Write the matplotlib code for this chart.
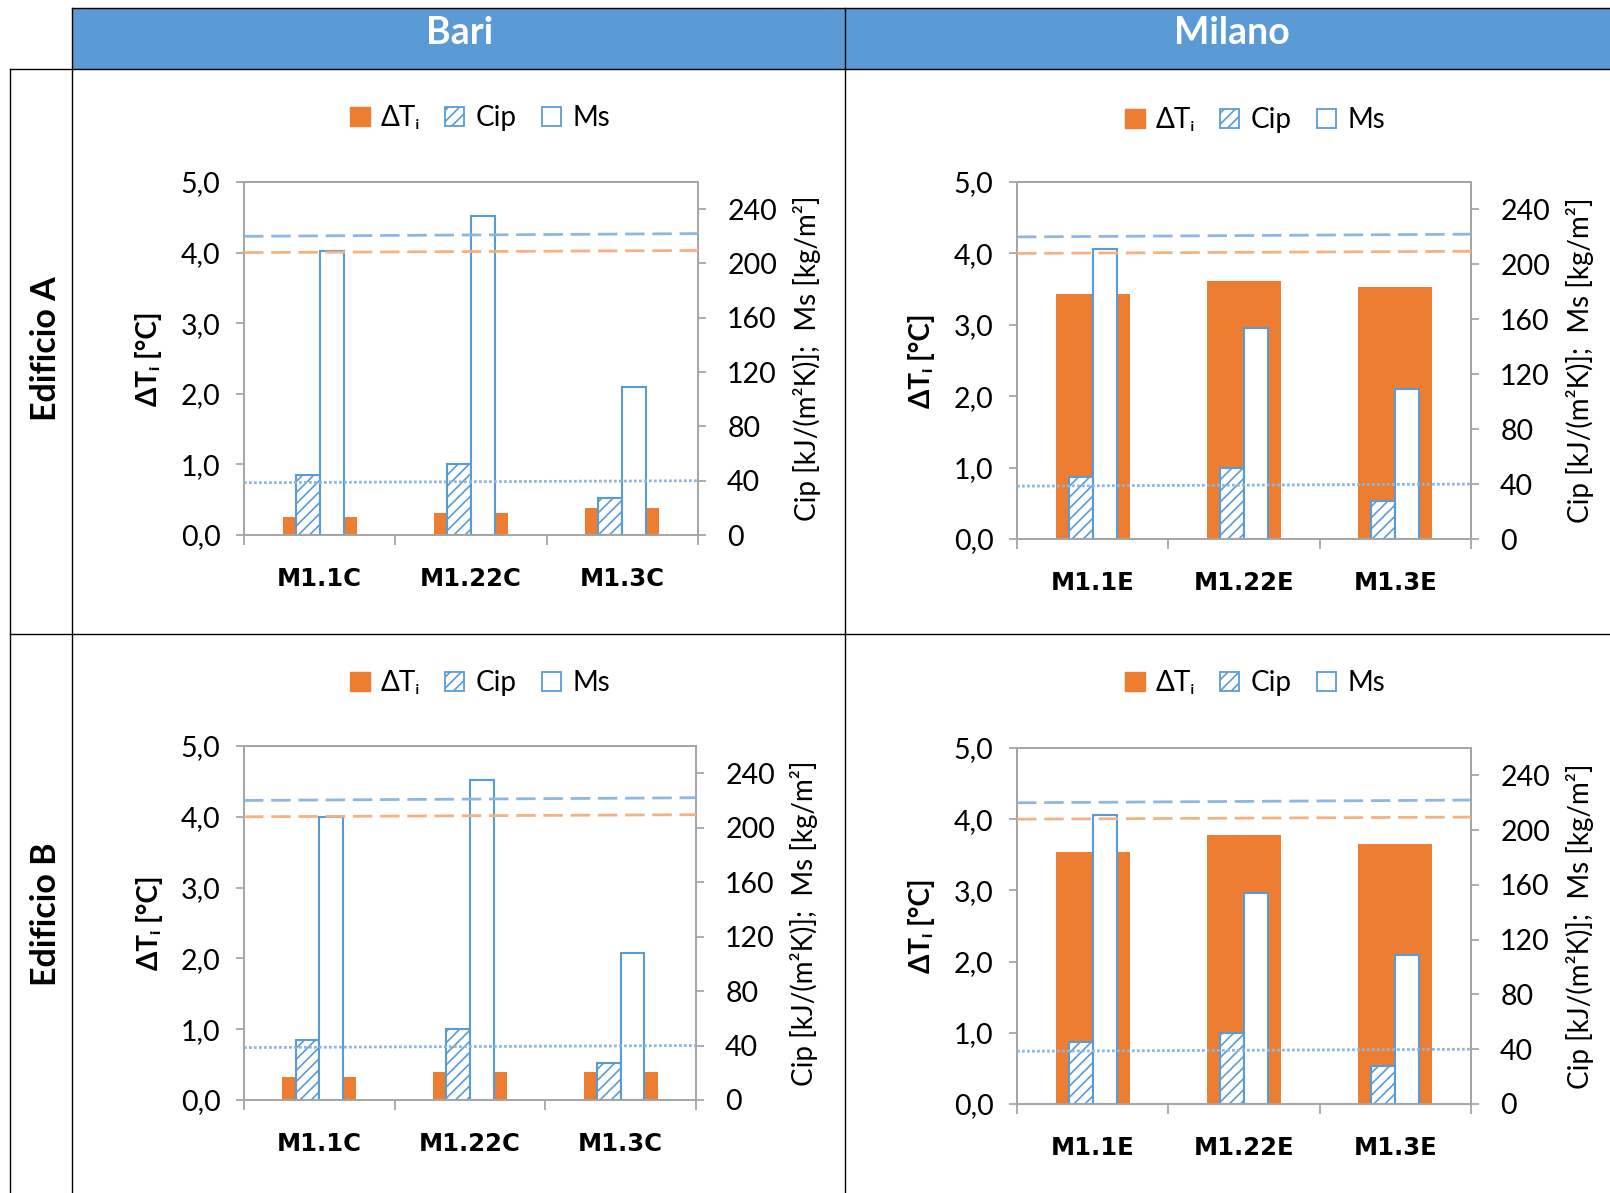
import matplotlib
matplotlib.use('Agg')
import matplotlib.pyplot as plt
from matplotlib.patches import Rectangle, Patch
from matplotlib.lines import Line2D
import numpy as np

plt.rcParams['font.family'] = ['Lato', 'DejaVu Sans']
plt.rcParams['hatch.linewidth'] = 1.2

# ---------------- data ----------------
cities = ['Bari', 'Milano']
buildings = ['Edificio A', 'Edificio B']
categories_bari = ['M1.1C', 'M1.22C', 'M1.3C']
categories_milano = ['M1.1E', 'M1.22E', 'M1.3E']

dT_A_bari = [0.25, 0.31, 0.38]
cip_A_bari = [44, 52, 27]
ms_A_bari = [209, 235, 109]

dT_A_milano = [3.43, 3.61, 3.53]
cip_A_milano = [45, 52, 28]
ms_A_milano = [211, 154, 109]

dT_B_bari = [0.32, 0.39, 0.39]
cip_B_bari = [44, 52, 27]
ms_B_bari = [208, 235, 108]

dT_B_milano = [3.54, 3.78, 3.65]
cip_B_milano = [45, 52, 28]
ms_B_milano = [211, 154, 109]

# reference (limit) lines, start/end values
dT_limit = [4.0, 4.03]
ms_limit = [220, 222]
cip_limit = [38.5, 40]

left_ticks = [0, 1, 2, 3, 4, 5]
left_ticklabels = ['0,0', '1,0', '2,0', '3,0', '4,0', '5,0']
right_ticks = [0, 40, 80, 120, 160, 200, 240]

# ---------------- style ----------------
W, H = 1610, 1193
ORANGE = '#ED7D31'
BLUE = '#5B9BD5'
LBLUE = '#8DB7E2'
LORANGE = '#F4B183'
GRAY = '#A6A6A6'

fig = plt.figure(figsize=(W / 100, H / 100), dpi=100)
fig.patch.set_facecolor('white')


def fig_line(x0, y0, x1, y1, **kw):
    fig.add_artist(Line2D([x0 / W, x1 / W], [1 - y0 / H, 1 - y1 / H],
                          transform=fig.transFigure, color='black', lw=1.0, **kw))


# header bar
fig.add_artist(Rectangle((72 / W, 1 - 69 / H), (W - 72) / W, 61 / H,
                         transform=fig.transFigure, facecolor=BLUE, edgecolor='none'))
fig.text(460 / W, 1 - 33 / H, cities[0], color='white', fontsize=27,
         fontweight='bold', ha='center', va='center')
fig.text(1232 / W, 1 - 33 / H, cities[1], color='white', fontsize=27,
         fontweight='bold', ha='center', va='center')

# grid lines
fig_line(72, 8, W, 8)
fig_line(10, 69, W, 69)
fig_line(10, 634, W, 634)
fig_line(10, 69, 10, H)
fig_line(72, 8, 72, H)
fig_line(845, 8, 845, H)

fig.text(46 / W, 1 - 349 / H, buildings[0], rotation=90, fontsize=24.5,
         fontweight='bold', ha='center', va='center')
fig.text(46 / W, 1 - 914 / H, buildings[1], rotation=90, fontsize=24.5,
         fontweight='bold', ha='center', va='center')

panels = [
    # (box l, t, r, b in px), categories, dT, cip, ms, legend centre (px)
    ((244, 182, 698, 535), categories_bari, dT_A_bari, cip_A_bari, ms_A_bari, (480, 118)),
    ((1017, 182, 1471, 539), categories_milano, dT_A_milano, cip_A_milano, ms_A_milano, (1255, 120)),
    ((244, 746, 696, 1100), categories_bari, dT_B_bari, cip_B_bari, ms_B_bari, (480, 683)),
    ((1017, 748, 1471, 1104), categories_milano, dT_B_milano, cip_B_milano, ms_B_milano, (1255, 683)),
]

for (l, t, r, b), cats, dT, cip, ms, (lx, ly) in panels:
    ax = fig.add_axes([l / W, 1 - b / H, (r - l) / W, (b - t) / H])
    ax2 = ax.twinx()
    x = np.arange(len(cats))
    ax.bar(x, dT, width=0.49, color=ORANGE, zorder=2)
    w = 0.158
    ax2.bar(x - w / 2, cip, width=w, facecolor='white', edgecolor=BLUE,
            hatch='///', linewidth=1.5, zorder=2)
    ax2.bar(x + w / 2, ms, width=w, facecolor='white', edgecolor=BLUE,
            linewidth=1.5, zorder=2)

    xl = [-0.5, 2.5]
    ax2.plot(xl, ms_limit, color=LBLUE, lw=2, linestyle=(0, (7, 2.8)), zorder=3)
    ax2.plot(xl, dT_limit, color=LORANGE, lw=2, linestyle=(0, (7, 2.8)), zorder=3,
             transform=ax.transData)
    ax2.plot(xl, cip_limit, color=LBLUE, lw=2, linestyle=(0, (1.0, 0.8)), zorder=3)

    ax.set_xlim(-0.5, 2.5)
    ax.set_ylim(0, 5)
    ax2.set_ylim(0, 260)

    ax.set_yticks(left_ticks)
    ax.set_yticklabels(left_ticklabels)
    ax2.set_yticks(right_ticks)
    ax2.set_yticklabels([str(v) for v in right_ticks])

    ax.set_xticks([-0.5, 0.5, 1.5, 2.5])
    ax.set_xticklabels([])
    ax.set_xticks(x, minor=True)
    ax.set_xticklabels(cats, minor=True, fontsize=17.5, fontweight='bold',
                       family='DejaVu Sans')
    ax.tick_params(axis='x', which='minor', length=0, pad=23)
    ax.tick_params(axis='x', which='major', length=7, width=1.3, color=GRAY,
                   direction='out')
    ax.tick_params(axis='y', length=6, width=1.3, color=GRAY, direction='out',
                   labelsize=20.5, pad=11)
    ax2.tick_params(axis='y', length=6, width=1.3, color=GRAY, direction='out',
                    labelsize=20.5, pad=15)
    for a in (ax, ax2):
        for s in a.spines.values():
            s.set_color(GRAY)
            s.set_linewidth(1.3)

    ax.text(-0.21, 0.5, 'ΔTᵢ [°C]', transform=ax.transAxes, rotation=90,
            fontsize=20, fontweight='bold', ha='center', va='center')
    ax.text(1.24, 0.5, 'Cip [kJ/(m²K)];  Ms [kg/m²]', transform=ax.transAxes,
            rotation=90, fontsize=20, ha='center', va='center')

    handles = [Patch(facecolor=ORANGE, edgecolor=ORANGE),
               Patch(facecolor='white', edgecolor=BLUE, hatch='///', linewidth=1.3),
               Patch(facecolor='white', edgecolor=BLUE, linewidth=1.3)]
    fig.legend(handles, ['ΔTᵢ', 'Cip', 'Ms'], loc='center',
               bbox_to_anchor=(lx / W, 1 - ly / H), ncol=3, frameon=False,
               fontsize=20, handlelength=0.7, handleheight=0.7,
               handletextpad=0.4, columnspacing=0.9)

fig.savefig('out.png', dpi=100)
